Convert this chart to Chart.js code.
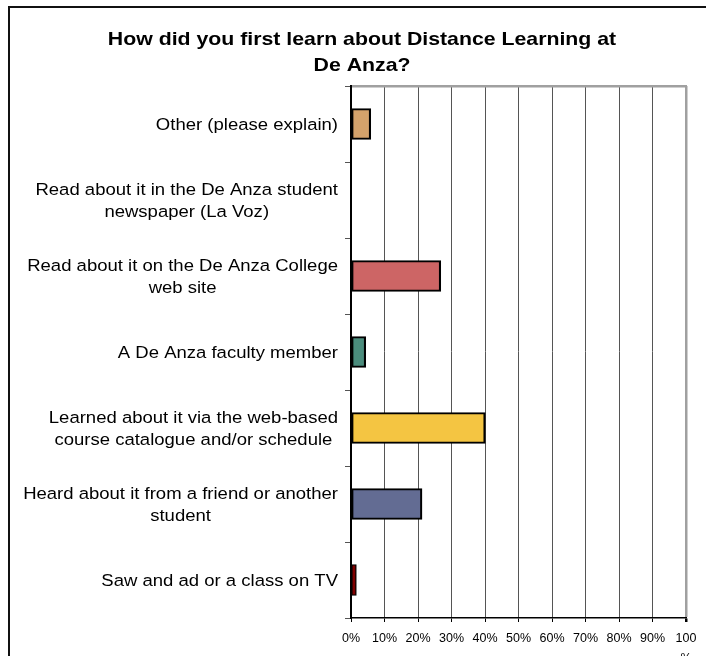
<!DOCTYPE html>
<html>
<head>
<meta charset="utf-8">
<script src="https://cdn.jsdelivr.net/npm/chart.js@4.4.1/dist/chart.umd.min.js"></script>
<style>
  html, body { margin: 0; padding: 0; background: #fff; }
  #wrap { width: 706px; height: 656px; }
</style>
</head>
<body>
<div id="wrap"><canvas id="chart"></canvas></div>
<script>
const titleLines = ['How did you first learn about Distance Learning at', 'De Anza?']

const categories = [
  ['Other (please explain)'],
  ['Read about it in the De Anza student', 'newspaper (La Voz)'],
  ['Read about it on the De Anza College', 'web site'],
  ['A De Anza faculty member'],
  ['Learned about it via the web-based', 'course catalogue and/or schedule'],
  ['Heard about it from a friend or another', 'student'],
  ['Saw and ad or a class on TV'],
]

const percents = [5.9, 0, 26.8, 4.4, 40.1, 21.2, 1.6]

const barColors = ['#d4a26b', '#9999ff', '#cd6565', '#4a8c7c', '#f4c542', '#636c93', '#800000']

const xTickLabels = ['0%', '10%', '20%', '30%', '40%', '50%', '60%', '70%', '80%', '90%', ['100', '%']]

const FONT = '"Liberation Sans", Arial, sans-serif'

// text in the source picture is stretched sideways a bit
const textPlugin = {
  id: 'textPlugin',
  beforeDraw(chart) {
    const ctx = chart.ctx
    ctx.save()
    ctx.fillStyle = '#fff'
    ctx.fillRect(0, 0, chart.width, chart.height)
    ctx.strokeStyle = '#111'
    ctx.lineWidth = 2
    ctx.strokeRect(9, 7, chart.width + 20, chart.height + 20)
    ctx.restore()
  },
  afterDraw(chart) {
    const ctx = chart.ctx
    const yScale = chart.scales.y
    ctx.save()
    ctx.fillStyle = '#000'
    ctx.textAlign = 'center'
    ctx.textBaseline = 'alphabetic'

    ctx.font = 'bold 18.5px ' + FONT
    titleLines.forEach((line, i) => {
      ctx.save()
      ctx.translate(362, 45 + i * 25.5)
      ctx.scale(1.15, 1)
      ctx.fillText(line, 0, 0)
      ctx.restore()
    })

    ctx.font = '16.3px ' + FONT
    const sx = 1.137
    categories.forEach((lines, i) => {
      const y = yScale.getPixelForValue(i)
      const blockWidth = Math.max(...lines.map((l) => ctx.measureText(l).width)) * sx
      const cx = yScale.right - 13 - blockWidth / 2
      lines.forEach((line, j) => {
        const by = y + (j - (lines.length - 1) / 2) * 22 + 5.8
        ctx.save()
        ctx.translate(cx, by)
        ctx.scale(sx, 1)
        ctx.fillText(line, 0, 0)
        ctx.restore()
      })
    })
    ctx.restore()
  },
}

new Chart(document.getElementById('chart'), {
  type: 'bar',
  data: {
    labels: categories,
    datasets: [
      {
        data: percents,
        backgroundColor: barColors,
        borderColor: '#000',
        borderWidth: [2.2, 2.2, 2.2, 2.2, 2.2, 2.2, 1.4],
        borderSkipped: false,
        barThickness: 31,
      },
    ],
  },
  options: {
    indexAxis: 'y',
    responsive: true,
    maintainAspectRatio: false,
    animation: false,
    layout: { padding: { left: 18, right: 20, top: 86, bottom: 0 } },
    plugins: {
      legend: { display: false },
      tooltip: { enabled: false },
      title: { display: false },
    },
    scales: {
      x: {
        type: 'linear',
        position: 'bottom',
        min: 0,
        max: 100,
        ticks: {
          stepSize: 10,
          color: '#000',
          padding: 7,
          maxRotation: 0,
          font: { family: FONT, size: 12.5, lineHeight: 1.6 },
          callback: (v, i) => xTickLabels[i],
        },
        grid: {
          color: (c) => (c.tick && c.tick.value === 100 ? '#a0a0a0' : '#555'),
          lineWidth: (c) => (c.tick && c.tick.value === 100 ? 2.5 : 1),
          tickColor: '#000',
          tickLength: 4,
        },
        border: { color: '#000', width: 1.5 },
        afterFit(s) {
          s.height = 38
        },
      },
      x2: {
        type: 'linear',
        position: 'top',
        min: 0,
        max: 100,
        ticks: { display: false },
        grid: { display: false, drawTicks: false },
        border: { color: '#a0a0a0', width: 2.5 },
        afterFit(s) {
          s.height = 0
        },
      },
      y: {
        type: 'category',
        offset: true,
        ticks: { display: false },
        grid: {
          offset: true,
          drawOnChartArea: false,
          color: '#555',
          tickLength: 6,
        },
        border: { color: '#000', width: 2 },
        afterFit(s) {
          s.width = 333
        },
      },
    },
  },
  plugins: [textPlugin],
})
</script>
</body>
</html>
